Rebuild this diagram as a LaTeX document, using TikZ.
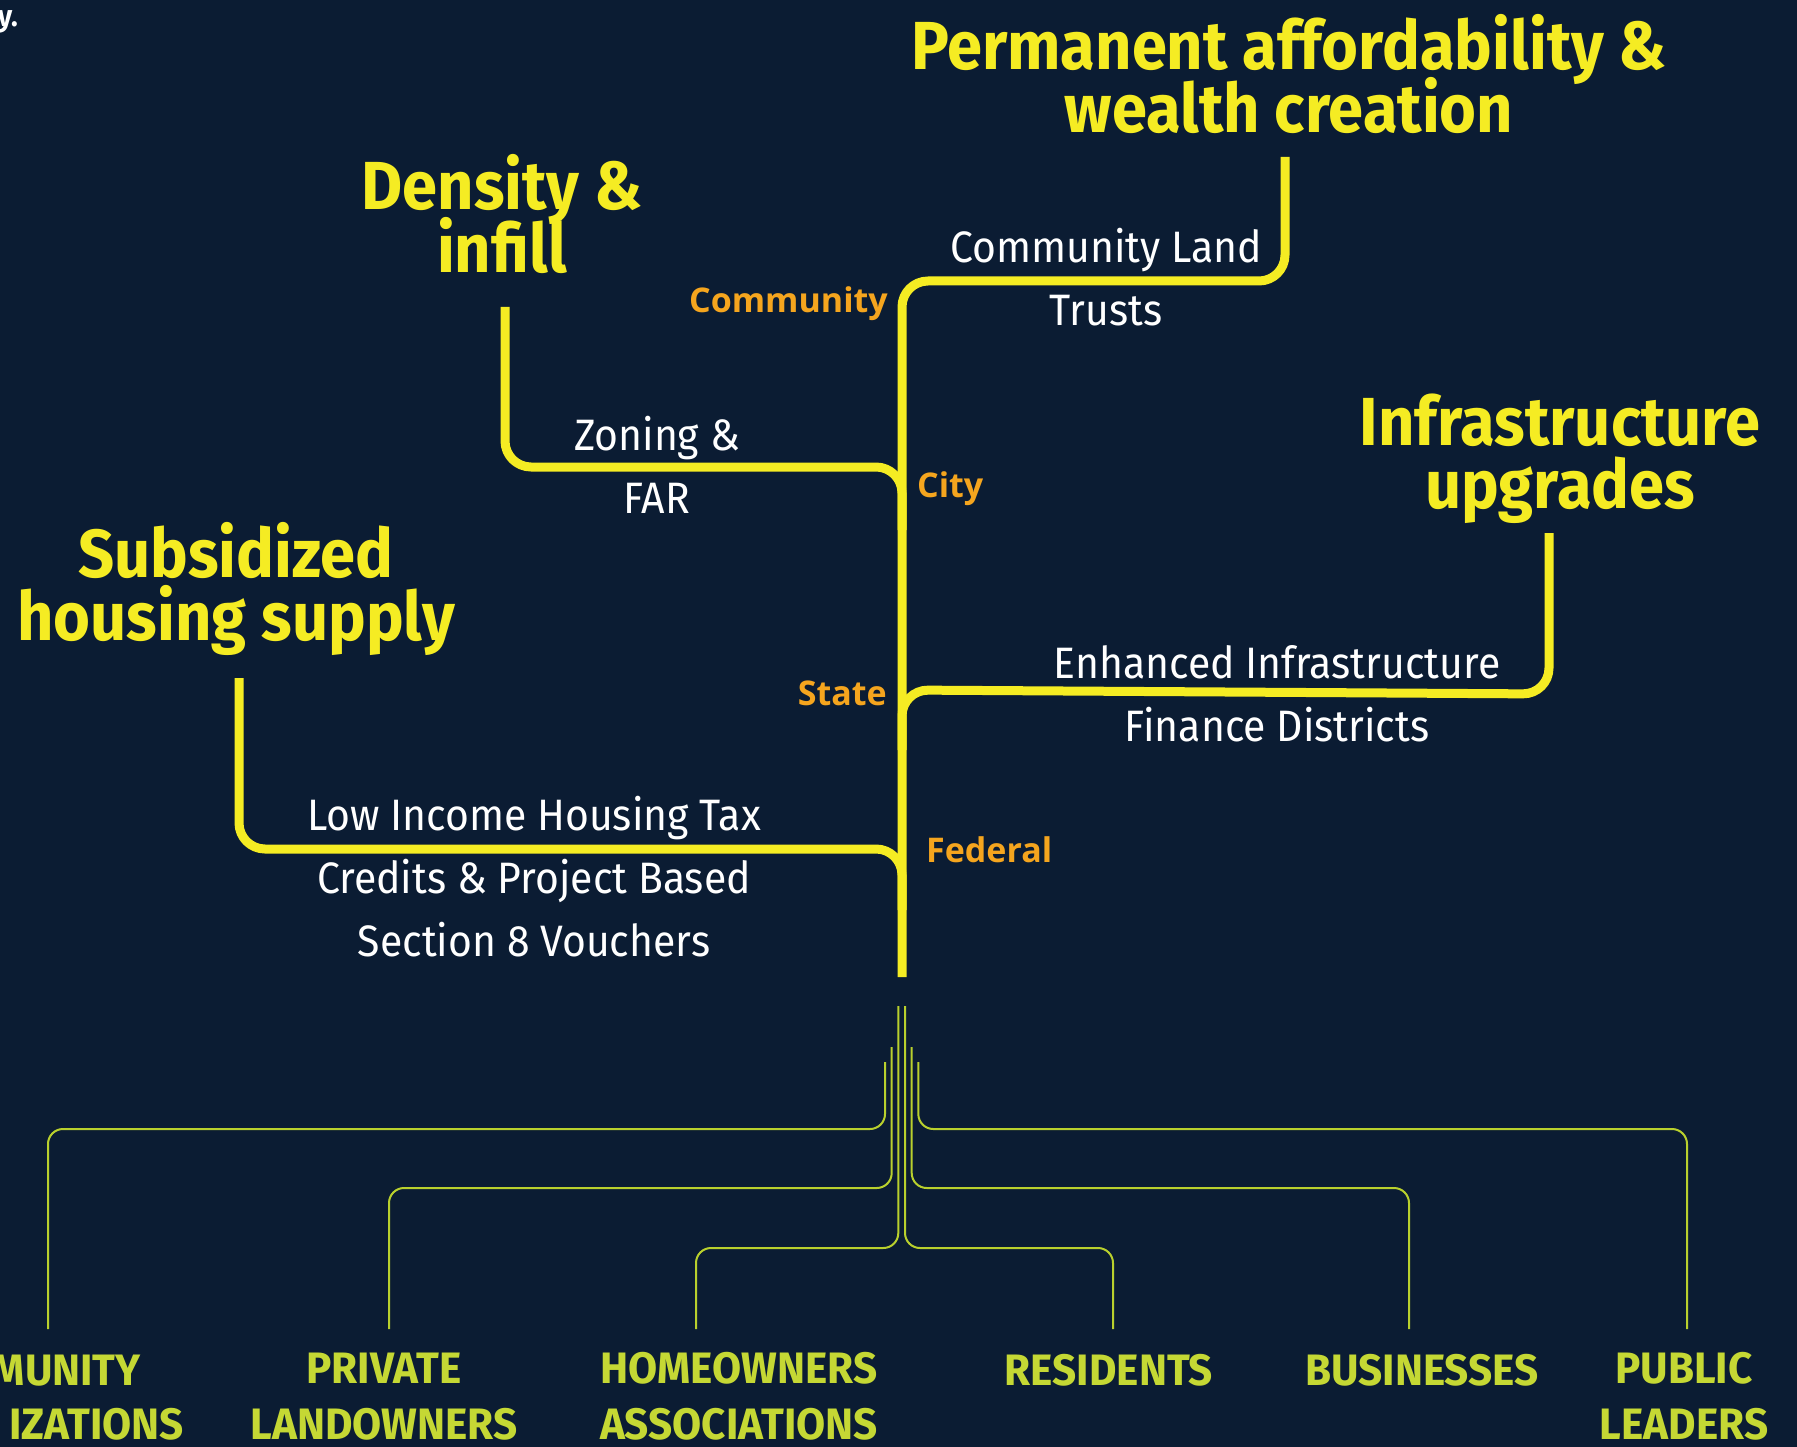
\documentclass[tikz,border=0pt]{standalone}
\usepackage{fontspec}
\setmainfont{Fira Sans}
\newfontfamily\headfont[FakeStretch=0.93]{Fira Sans}
\newfontfamily\bodyfont[FakeStretch=0.93]{Fira Sans}
\newfontfamily\levelfont{Open Sans}
\newfontfamily\stakefont[FakeStretch=0.96]{Fira Sans}
\definecolor{bg}{RGB}{11,28,51}
\definecolor{ylw}{RGB}{245,236,35}
\definecolor{org}{RGB}{245,165,30}
\definecolor{lime}{RGB}{197,216,52}
\definecolor{limeline}{RGB}{185,208,45}
\newcommand\mytightlines{\setlength{\lineskiplimit}{-100pt}}
\newcommand\myheadfont{\headfont\bfseries\fontsize{68}{63}\selectfont\mytightlines}
\newcommand\mybodyfont{\bodyfont\fontsize{44}{63}\selectfont\mytightlines}
\newcommand\mystakefont{\stakefont\bfseries\fontsize{44}{56}\selectfont\mytightlines}
\begin{document}
\begin{tikzpicture}[x=1pt,y=-1pt,
  heading/.style={text=ylw, font=\myheadfont, align=center, anchor=base, inner sep=0pt},
  policy/.style={text=white, font=\mybodyfont, align=center, anchor=base, inner sep=0pt},
  level/.style={text=org, font=\levelfont\bfseries\fontsize{34}{40}\selectfont, inner sep=0pt},
  stake/.style={text=lime, font=\mystakefont, align=center, anchor=base, inner sep=0pt},
  branch/.style={draw=ylw, line width=9pt, rounded corners=26pt},
  root/.style={draw=limeline, line width=2pt, rounded corners=15pt},
]
\fill[bg] (0,0) rectangle (1797,1447);
\useasboundingbox (0,0) rectangle (1797,1447);

% fragment of a cut-off sentence
\node[text=white, font=\bodyfont\bfseries\fontsize{30}{36}\selectfont, anchor=base east, inner sep=0pt] (yfrag) at (18,27) {y.};

% headings (anchor = baseline of last line)
\node[heading] (hPerm) at (1289,133) {Permanent affordability \&\\wealth creation};
\node[heading] (hDens) at (502,273) {Density \&\\infill};
\node[heading] (hSubs) at (236,640) {Subsidized\\housing supply};
\node[heading] (hInfra) at (1560,508) {Infrastructure\\upgrades};

% policies
\node[policy] (pCLT) at (1106,326) {Community Land\\Trusts};
\node[policy] (pZon) at (657,513) {Zoning \&\\FAR};
\node[policy] (pLIH) at (534,956) {Low Income Housing Tax\\Credits \& Project Based\\Section 8 Vouchers};
\node[policy] (pEIF) at (1277,741) {Enhanced Infrastructure\\Finance Districts};

% levels
\node[level, anchor=base east] (lCom) at (888,313) {Community};
\node[level, anchor=base west] (lCity) at (917,497) {City};
\node[level, anchor=base east] (lState) at (887,705) {State};
\node[level, anchor=base west] (lFed) at (926,862) {Federal};

% trunk and branches
\coordinate (trunkBot) at (902,977);
\coordinate (cltJoin) at (902,281);
\coordinate (cltTop) at (1285,157);
\draw[branch] (trunkBot) -- (cltJoin) -| (cltTop);

\coordinate (zonTop) at (505,307);
\coordinate (zonBend) at (902,467);
\coordinate (zonJoin) at (902,530);
\draw[branch] (zonTop) |- (zonBend) -- (zonJoin);

\coordinate (lihTop) at (239,678);
\coordinate (lihBend) at (902,849);
\coordinate (lihJoin) at (902,910);
\draw[branch] (lihTop) |- (lihBend) -- (lihJoin);

\coordinate (infStart) at (902,750);
\coordinate (infJoin) at (902,690);
\coordinate (infBend) at (1549,694);
\coordinate (infTop) at (1549,533);
\draw[branch] (infStart) -- (infJoin) -- (infBend) -- (infTop);

% stakeholders
\node[stake, anchor=base east] (sCom1) at (141,1385) {MUNITY};
\node[stake, anchor=base east] (sCom2) at (184,1439) {IZATIONS};
\node[stake] (sPriv) at (384,1439) {PRIVATE\\LANDOWNERS};
\node[stake] (sHoa) at (739,1439) {HOMEOWNERS\\ASSOCIATIONS};
\node[stake] (sRes) at (1109,1385) {RESIDENTS};
\node[stake] (sBus) at (1422,1385) {BUSINESSES};
\node[stake] (sPub) at (1684,1439) {PUBLIC\\LEADERS};

% roots
\coordinate (rA) at (885,1062);   \coordinate (rAb) at (885,1129);   \coordinate (rAe) at (48,1329);
\coordinate (rB) at (891.7,1047); \coordinate (rBb) at (891.7,1188); \coordinate (rBe) at (389,1329);
\coordinate (rC) at (898.3,1006); \coordinate (rCb) at (898.3,1248); \coordinate (rCe) at (696,1329);
\coordinate (rD) at (905,1006);   \coordinate (rDb) at (905,1248);   \coordinate (rDe) at (1113,1329);
\coordinate (rE) at (911.7,1047); \coordinate (rEb) at (911.7,1188); \coordinate (rEe) at (1409,1329);
\coordinate (rF) at (918.3,1062); \coordinate (rFb) at (918.3,1129); \coordinate (rFe) at (1687,1329);
\draw[root] (rA) -- (rAb) -| (rAe);
\draw[root] (rB) -- (rBb) -| (rBe);
\draw[root] (rC) -- (rCb) -| (rCe);
\draw[root] (rD) -- (rDb) -| (rDe);
\draw[root] (rE) -- (rEb) -| (rEe);
\draw[root] (rF) -- (rFb) -| (rFe);
\end{tikzpicture}
\end{document}
